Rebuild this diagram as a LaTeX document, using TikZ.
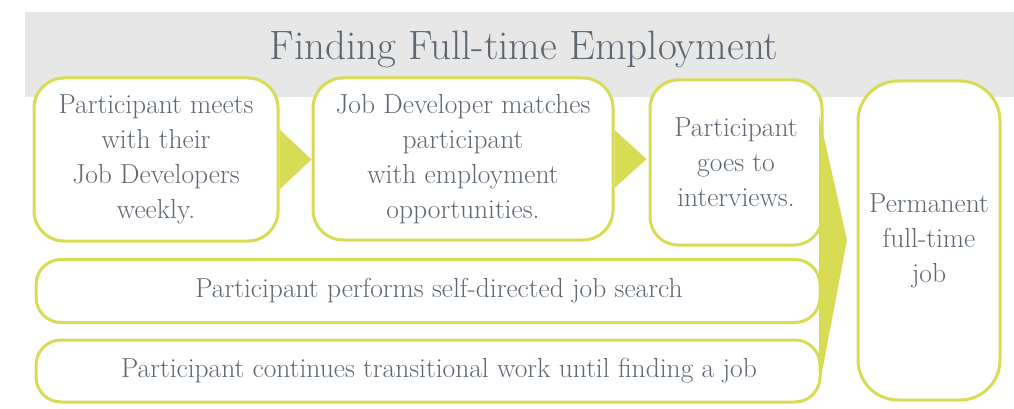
\documentclass[tikz,border=0pt]{standalone}
\usepackage{fontspec}
\definecolor{ylw}{RGB}{216,219,84}
\definecolor{txt}{RGB}{94,104,114}
\definecolor{banner}{RGB}{230,231,230}
\begin{document}
\begin{tikzpicture}[x=1pt,y=-1pt,
  box/.style={draw=ylw, line width=3pt, fill=white, text=txt, align=center,
    inner sep=0pt, font=\fontsize{27.5}{35}\selectfont},
  arrowtri/.style={fill=ylw}]
\useasboundingbox (0,0) rectangle (1014,409);
\fill[banner] (25,12) rectangle (1014,97);
\node[text=txt, font=\fontsize{41}{48}\selectfont, anchor=base] (title) at (524,60) {Finding Full-time Employment};
\node[box, rounded corners=30pt, minimum width=244pt, minimum height=163pt] (b1) at (156,159.5)
  {Participant meets\\with their\\Job Developers\\weekly.};
\node[box, rounded corners=30pt, minimum width=300pt, minimum height=162pt] (b2) at (463,159)
  {Job Developer matches\\participant\\with employment\\opportunities.};
\node[box, rounded corners=28pt, minimum width=172pt, minimum height=165pt] (b3) at (736,162.5)
  {Participant\\goes to\\interviews.};
\node[box, rounded corners=25pt, minimum width=784pt, minimum height=63pt] (b4) at (428,291)
  {\hspace*{22pt}Participant performs self-directed job search};
\node[box, rounded corners=25pt, minimum width=784pt, minimum height=62pt] (b5) at (428,371)
  {\hspace*{22pt}Participant continues transitional work until finding a job};
\node[box, rounded corners=40pt, minimum width=142pt, minimum height=319pt] (b6) at (929,240.5)
  {Permanent\\full-time\\job};
\fill[arrowtri] ([yshift=30pt]b1.east) -- ([xshift=32pt]b1.east) -- ([yshift=-30pt]b1.east) -- cycle;
\fill[arrowtri] ([yshift=29pt]b2.east) -- ([xshift=32pt]b2.east) -- ([yshift=-29pt]b2.east) -- cycle;
\coordinate (t1) at (819,115);
\coordinate (t2) at (847,240);
\coordinate (t3) at (819,388);
\fill[arrowtri] (t1) -- (t2) -- (t3) -- cycle;
\end{tikzpicture}
\end{document}
